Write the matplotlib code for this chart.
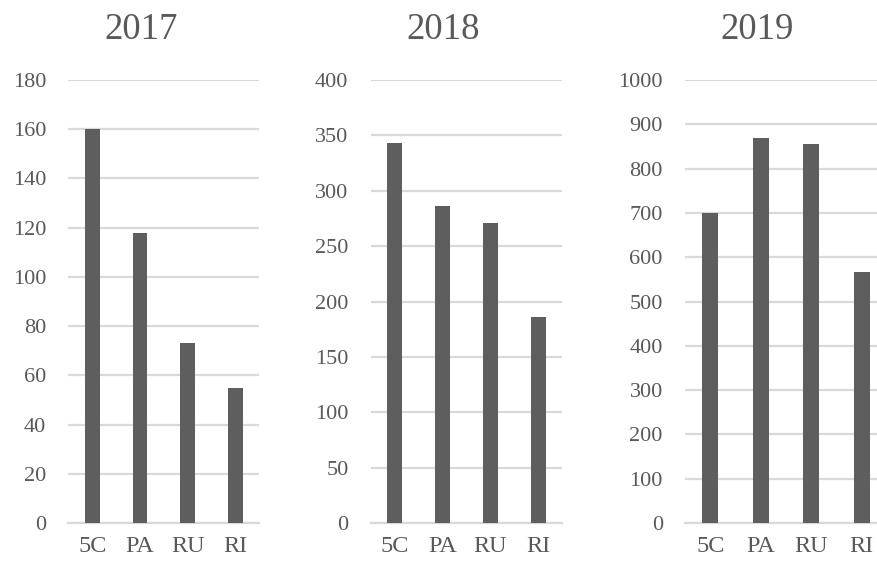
import matplotlib.pyplot as plt

plt.rcParams['font.family'] = ['Liberation Serif', 'DejaVu Serif']

categories = ['5C', 'PA', 'RU', 'RI']
years = ['2017', '2018', '2019']
values_2017 = [160, 118, 73, 55]
values_2018 = [343, 286, 271, 186]
values_2019 = [700, 870, 856, 567]
y_max = [180, 400, 1000]
y_step = [20, 50, 100]

bar_color = '#5e5e5e'
grid_color = '#d9d9d9'
text_color = '#595959'

fig = plt.figure(figsize=(8.77, 5.61), dpi=100)

# panel positions in figure coordinates (the last one runs off the right edge)
boxes = [
    [0.0779, 0.0677, 0.2178, 0.7897],
    [0.4227, 0.0677, 0.2185, 0.7897],
    [0.7811, 0.0677, 0.2303, 0.7897],
]
title_x = [0.1608, 0.5057, 0.8637]

for i, vals in enumerate([values_2017, values_2018, values_2019]):
    ax = fig.add_axes(boxes[i])
    x = range(len(categories))
    ax.bar(x, vals, width=0.31, color=bar_color, zorder=3)
    ax.set_xlim(-0.5, len(categories) - 0.5)
    ax.set_ylim(0, y_max[i])
    ax.set_yticks(range(0, y_max[i] + 1, y_step[i]))
    ax.set_xticks(list(x))
    ax.set_xticklabels(categories)
    ax.yaxis.grid(True, color=grid_color, linewidth=1.6, zorder=0)
    for s in ['top', 'right', 'left']:
        ax.spines[s].set_visible(False)
    ax.spines['bottom'].set_color(grid_color)
    ax.spines['bottom'].set_linewidth(1.6)
    ax.tick_params(axis='y', length=0, pad=16, labelsize=16, labelcolor=text_color)
    ax.tick_params(axis='x', length=0, pad=9, labelsize=17.5, labelcolor=text_color)
    fig.text(title_x[i], 0.9296, years[i], ha='center', va='baseline',
             fontsize=26.5, color=text_color)

plt.savefig('out.png', dpi=100)
